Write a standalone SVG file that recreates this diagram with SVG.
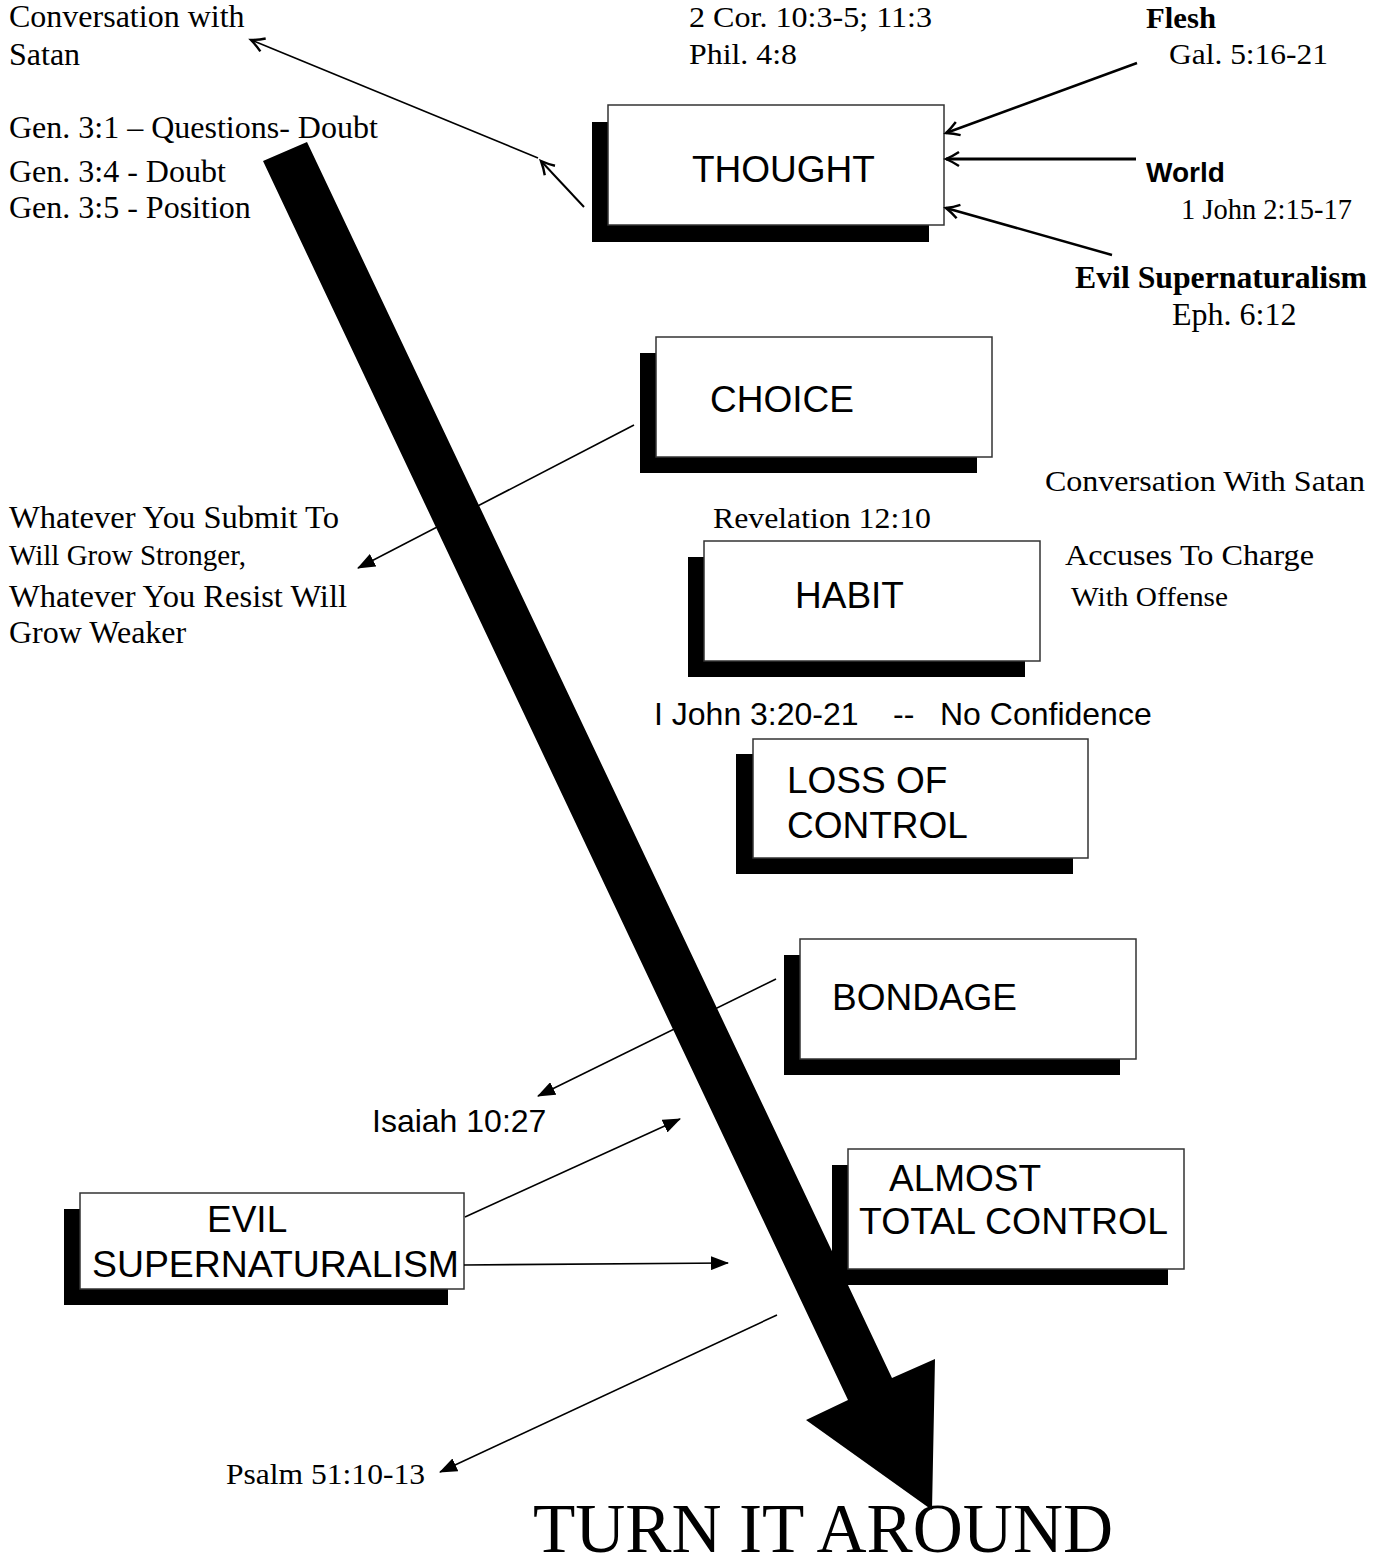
<svg xmlns="http://www.w3.org/2000/svg" width="1387" height="1562" viewBox="0 0 1387 1562">
<style>
.bg{fill:#fff}
.shadow{fill:#000}
.box{fill:#fff;stroke:#333;stroke-width:1.5}
.bt{font-family:"Liberation Sans",Arial,sans-serif;font-size:37px;fill:#000}
.ar{font-family:"Liberation Sans",Arial,sans-serif;font-size:32px;fill:#000}
.arb{font-family:"Liberation Sans",Arial,sans-serif;font-size:28px;font-weight:bold;fill:#000}
.tm{font-family:"Liberation Serif","Times New Roman",serif;font-size:32px;fill:#000}
.tmc{font-family:"Liberation Serif","Times New Roman",serif;font-size:30px;fill:#000}
.tmb{font-family:"Liberation Serif","Times New Roman",serif;font-size:32px;font-weight:bold;fill:#000}
.big{font-family:"Liberation Serif","Times New Roman",serif;font-size:70px;fill:#000}
.ln{fill:none;stroke:#000;stroke-width:1.6}
.lnv{fill:none;stroke:#000;stroke-width:2}
</style>
<defs>
<marker id="tri" markerUnits="userSpaceOnUse" markerWidth="18" markerHeight="14" refX="17" refY="7" orient="auto">
<path d="M0,0 L18,7 L0,14 z" fill="#000"/>
</marker>
<marker id="vee" markerUnits="userSpaceOnUse" markerWidth="18" markerHeight="18" refX="15" refY="9" orient="auto">
<path d="M2,2 Q8,6 15,9 Q8,12 2,16" fill="none" stroke="#000" stroke-width="2.4"/>
</marker>
</defs>
<rect class="bg" x="0" y="0" width="1387" height="1562"/>

<g id="labels">
<text class="tm" x="9" y="27">Conversation with</text>
<text class="tm" x="9" y="65">Satan</text>
<text class="tm" x="9" y="138">Gen. 3:1 – Questions- Doubt</text>
<text class="tm" x="9" y="182">Gen. 3:4 - Doubt</text>
<text class="tm" x="9" y="218">Gen. 3:5 - Position</text>
<text class="tmc" x="689" y="27" textLength="243" lengthAdjust="spacingAndGlyphs">2 Cor. 10:3-5; 11:3</text>
<text class="tmc" x="689" y="64" textLength="108" lengthAdjust="spacingAndGlyphs">Phil. 4:8</text>
<text class="tmb" x="1146" y="28" textLength="70" lengthAdjust="spacingAndGlyphs" style="font-size:30px">Flesh</text>
<text class="tmc" x="1169" y="64" textLength="159" lengthAdjust="spacingAndGlyphs">Gal. 5:16-21</text>
<text class="arb" x="1146" y="182">World</text>
<text class="tmc" x="1181" y="219" textLength="171" lengthAdjust="spacingAndGlyphs">1 John 2:15-17</text>
<text class="tmb" x="1075" y="288" textLength="292" lengthAdjust="spacingAndGlyphs">Evil Supernaturalism</text>
<text class="tm" x="1172" y="325">Eph. 6:12</text>
<text class="tmc" x="1045" y="491" textLength="320" lengthAdjust="spacingAndGlyphs">Conversation With Satan</text>
<text class="tmc" x="713" y="528" textLength="218" lengthAdjust="spacingAndGlyphs">Revelation 12:10</text>
<text class="tmc" x="1065" y="565" textLength="249" lengthAdjust="spacingAndGlyphs">Accuses To Charge</text>
<text class="tmc" x="1071" y="606" textLength="157" lengthAdjust="spacingAndGlyphs" style="font-size:27px">With Offense</text>
<text class="tm" x="9" y="528" textLength="330" lengthAdjust="spacingAndGlyphs">Whatever You Submit To</text>
<text class="tm" x="9" y="565" style="font-size:29px">Will Grow Stronger,</text>
<text class="tm" x="9" y="607" textLength="338" lengthAdjust="spacingAndGlyphs">Whatever You Resist Will</text>
<text class="tm" x="9" y="643">Grow Weaker</text>
<text class="ar" x="654" y="725">I John 3:20-21</text>
<text class="ar" x="893" y="725">--</text>
<text class="ar" x="940" y="725">No Confidence</text>
<text class="ar" x="372" y="1132">Isaiah 10:27</text>
<text class="tm" x="226" y="1484" style="font-size:29px" textLength="199" lengthAdjust="spacingAndGlyphs">Psalm 51:10-13</text>
<text class="big" x="533" y="1552" textLength="580" lengthAdjust="spacingAndGlyphs">TURN IT AROUND</text>
</g>

<g id="node-thought">
<rect class="shadow" x="592" y="122" width="337" height="120"/>
<rect class="box" x="608" y="105" width="336" height="120"/>
<text class="bt" x="692" y="182">THOUGHT</text>
</g>
<g id="node-choice">
<rect class="shadow" x="640" y="353" width="337" height="120"/>
<rect class="box" x="656" y="337" width="336" height="120"/>
<text class="bt" x="710" y="412">CHOICE</text>
</g>
<g id="node-habit">
<rect class="shadow" x="688" y="557" width="337" height="120"/>
<rect class="box" x="704" y="541" width="336" height="120"/>
<text class="bt" x="795" y="608">HABIT</text>
</g>
<g id="node-loss">
<rect class="shadow" x="736" y="754" width="337" height="120"/>
<rect class="box" x="753" y="739" width="335" height="119"/>
<text class="bt" x="787" y="793">LOSS OF</text>
<text class="bt" x="787" y="838">CONTROL</text>
</g>
<g id="node-bondage">
<rect class="shadow" x="784" y="955" width="336" height="120"/>
<rect class="box" x="800" y="939" width="336" height="120"/>
<text class="bt" x="832" y="1010">BONDAGE</text>
</g>
<g id="node-almost">
<rect class="shadow" x="832" y="1165" width="336" height="120"/>
<rect class="box" x="848" y="1149" width="336" height="120"/>
<text class="bt" x="889" y="1191">ALMOST</text>
<text class="bt" x="859" y="1234" textLength="309" lengthAdjust="spacingAndGlyphs">TOTAL CONTROL</text>
</g>
<g id="node-evil">
<rect class="shadow" x="64" y="1209" width="384" height="96"/>
<rect class="box" x="80" y="1193" width="384" height="96"/>
<text class="bt" x="207" y="1232">EVIL</text>
<text class="bt" x="92" y="1277" textLength="367" lengthAdjust="spacingAndGlyphs">SUPERNATURALISM</text>
</g>

<g id="big-arrow">
<polygon points="307,142 892,1378 935,1359 932,1510 806,1420 848,1400 263,161" fill="#000"/>
</g>

<g id="connectors">
<line class="ln" x1="538" y1="158" x2="251" y2="40" marker-end="url(#vee)"/>
<line class="lnv" x1="584" y1="207" x2="541" y2="161" marker-end="url(#vee)"/>
<line class="lnv" x1="1137" y1="63" x2="946" y2="133" marker-end="url(#vee)" style="stroke-width:2.5"/>
<line class="lnv" x1="1136" y1="159" x2="946" y2="159" marker-end="url(#vee)" style="stroke-width:3.2"/>
<line class="lnv" x1="1112" y1="255" x2="946" y2="208" marker-end="url(#vee)" style="stroke-width:2.5"/>
<line class="ln" x1="634" y1="425" x2="358" y2="568" marker-end="url(#tri)"/>
<line class="ln" x1="776" y1="979" x2="538" y2="1096" marker-end="url(#tri)"/>
<line class="ln" x1="465" y1="1217" x2="680" y2="1119" marker-end="url(#tri)"/>
<line class="ln" x1="464" y1="1265" x2="728" y2="1263" marker-end="url(#tri)"/>
<line class="ln" x1="777" y1="1315" x2="440" y2="1472" marker-end="url(#tri)"/>
</g>
</svg>
